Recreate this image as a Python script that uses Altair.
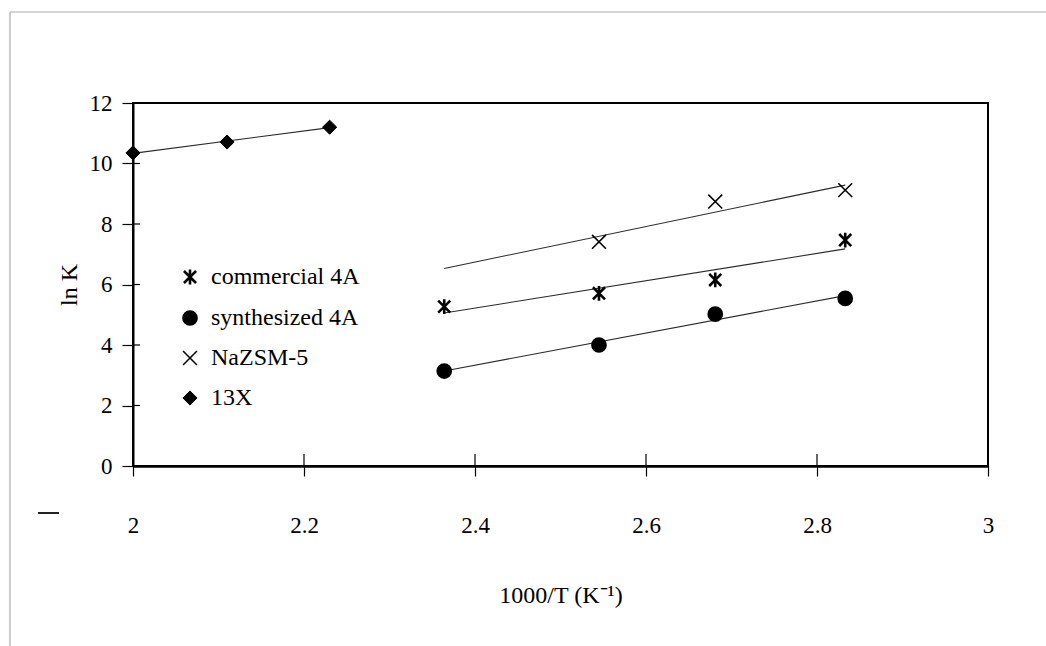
import altair as alt
import pandas as pd

# ---- data ----
series_names = ["commercial 4A", "synthesized 4A", "NaZSM-5", "13X"]
x_4a = [2.364, 2.545, 2.681, 2.833]
commercial_4a = [5.27, 5.71, 6.15, 7.47]
synthesized_4a = [3.14, 4.00, 5.02, 5.54]
x_zsm = [2.545, 2.681, 2.833]
nazsm_5 = [7.41, 8.74, 9.12]
x_13x = [2.0, 2.11, 2.23]
y_13x = [10.35, 10.71, 11.2]
fit_extent = [2.364, 2.833]
x_ticks = [2, 2.2, 2.4, 2.6, 2.8, 3]
y_ticks = [0, 2, 4, 6, 8, 10, 12]

rows = []
for xv, yv in zip(x_4a, commercial_4a):
    rows.append({"x": xv, "y": yv, "series": series_names[0]})
for xv, yv in zip(x_4a, synthesized_4a):
    rows.append({"x": xv, "y": yv, "series": series_names[1]})
for xv, yv in zip(x_zsm, nazsm_5):
    rows.append({"x": xv, "y": yv, "series": series_names[2]})
for xv, yv in zip(x_13x, y_13x):
    rows.append({"x": xv, "y": yv, "series": series_names[3]})
df = pd.DataFrame(rows)

W, H = 855, 363
FONT = "Liberation Serif"

x_scale = alt.Scale(domain=[2, 3], nice=False, zero=False)
y_scale = alt.Scale(domain=[0, 12], nice=False)

x_axis = alt.Axis(values=x_ticks, format="~g", title="1000/T (K⁻¹)", grid=False, tickSize=10,
                  labelPadding=38, titlePadding=46, domainWidth=2.5, labelFlush=False)
y_axis = alt.Axis(values=y_ticks, title="ln K", grid=False, tickSize=11,
                  labelPadding=10, titlePadding=8, domainWidth=2)

asterisk = "M-0.9,-0.9L0.9,0.9M-0.9,0.9L0.9,-0.9M0,-1.1L0,1.1"
xmark = "M-1,-1L1,1M-1,1L1,-1"
diamond = "M0,-1L1,0L0,1L-1,0Z"

leg = alt.Legend(title=None, orient="none", legendX=45, legendY=162)

right_df = df[df["series"] != "13X"]
left_df = df[df["series"] == "13X"]

fit_right = alt.Chart(right_df).transform_regression(
    "x", "y", groupby=["series"], extent=fit_extent
).mark_line(color="#2a2a2a", strokeWidth=1.1).encode(
    x=alt.X("x:Q", scale=x_scale, axis=x_axis),
    y=alt.Y("y:Q", scale=y_scale, axis=y_axis),
    detail="series:N",
)

fit_left = alt.Chart(left_df).transform_regression(
    "x", "y", groupby=["series"]
).mark_line(color="#2a2a2a", strokeWidth=1.1).encode(
    x=alt.X("x:Q", scale=x_scale, axis=x_axis),
    y=alt.Y("y:Q", scale=y_scale, axis=y_axis),
    detail="series:N",
)

points = alt.Chart(df).mark_point(opacity=1).encode(
    x=alt.X("x:Q", scale=x_scale, axis=x_axis),
    y=alt.Y("y:Q", scale=y_scale, axis=y_axis),
    shape=alt.Shape("series:N", scale=alt.Scale(domain=series_names,
                    range=[asterisk, "circle", xmark, diamond]), legend=leg),
    fill=alt.Fill("series:N", scale=alt.Scale(domain=series_names,
                  range=["transparent", "black", "transparent", "black"]), legend=leg),
    stroke=alt.Stroke("series:N", scale=alt.Scale(domain=series_names,
                  range=["black", "black", "black", "black"]), legend=leg),
    strokeWidth=alt.StrokeWidth("series:N", scale=alt.Scale(domain=series_names,
                  range=[2.6, 1, 1.4, 1]), legend=leg),
    size=alt.Size("series:N", scale=alt.Scale(domain=series_names,
                  range=[180, 200, 180, 250]), legend=leg),
)

# inward-pointing halves of the tick marks, placed through the shared scales
xt = pd.DataFrame({"x": x_ticks})
yt = pd.DataFrame({"y": y_ticks})
inner_x = alt.Chart(xt).mark_rule(color="black", strokeWidth=1.2).encode(
    x=alt.X("x:Q", scale=x_scale, axis=x_axis), y=alt.value(H), y2=alt.value(H - 12))
inner_y = alt.Chart(yt).mark_rule(color="black", strokeWidth=1.2).encode(
    y=alt.Y("y:Q", scale=y_scale, axis=y_axis), x=alt.value(0), x2=alt.value(7))

one = pd.DataFrame({"a": [0]})
frame_left = alt.Chart(one).mark_rule(color="#aaa", strokeWidth=1.2).encode(
    x=alt.value(-123), y=alt.value(-91), y2=alt.value(543))
frame_top = alt.Chart(one).mark_rule(color="#aaa", strokeWidth=1.2).encode(
    x=alt.value(-123), x2=alt.value(913), y=alt.value(-91))
dash = alt.Chart(one).mark_rule(color="#222", strokeWidth=2).encode(
    x=alt.value(-95), x2=alt.value(-74), y=alt.value(410))

chart = alt.layer(
    fit_right, fit_left, inner_x, inner_y, points, frame_left, frame_top, dash
).properties(
    width=W, height=H,
    autosize=alt.AutoSizeParams(type="none"),
    padding={"left": 133, "top": 103, "right": 58, "bottom": 180},
    background="white",
).configure_view(
    stroke="black", strokeWidth=2
).configure_axis(
    labelFont=FONT, titleFont=FONT, labelFontSize=23, titleFontSize=24,
    labelColor="black", titleColor="black", titleFontWeight="normal",
    domainColor="black", tickColor="black", tickWidth=1.2,
).configure_legend(
    labelFont=FONT, labelFontSize=24, labelColor="black",
    rowPadding=16, labelOffset=9, padding=0,
)

chart.save("out.html", embed_options={"renderer": "svg", "actions": False})
